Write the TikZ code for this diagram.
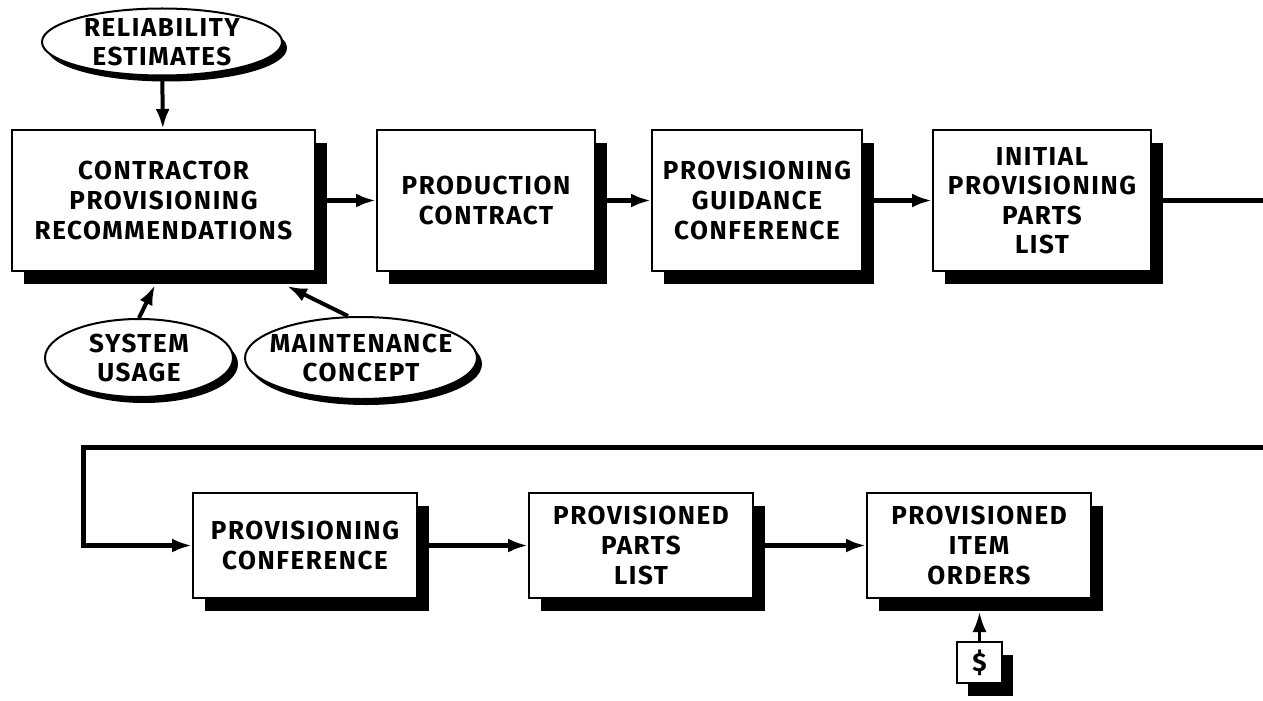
\documentclass[tikz,border=0pt]{standalone}
\usepackage{fontspec}
\setmainfont[LetterSpace=6]{Fira Sans}
\usetikzlibrary{arrows.meta,shapes,shadows,positioning}
\tikzset{
	box/.style={
		rectangle,
		draw,
		line width=0.4mm,
		fill=white,
		align=center,
		font=\bfseries\fontsize{14.8}{16.8}\selectfont,
	},
	stage/.style={
		box,
		minimum height=28.2mm,
		drop shadow={shadow xshift=2.4mm,shadow yshift=-2.6mm,fill=black,opacity=1},
	},
	lowstage/.style={
		stage,
		minimum height=21mm,
		minimum width=44.8mm,
	},
	tag/.style={
		box,
		inner sep=0pt,
		minimum width=9mm,
		minimum height=8.2mm,
		drop shadow={shadow xshift=2.2mm,shadow yshift=-2.6mm,fill=black,opacity=1},
	},
	source/.style={
		ellipse,
		draw,
		line width=0.4mm,
		fill=white,
		align=center,
		font=\bfseries\fontsize{14.8}{16.8}\selectfont,
		inner xsep=-2.5mm,
		inner ysep=-1.5mm,
		drop shadow={shadow xshift=1mm,shadow yshift=-1.2mm,fill=black,opacity=1},
	},
	flow/.style={
		->,
		line width=1mm,
	},
	feed/.style={
		->,
		line width=0.8mm,
	}
}

\begin{document}
\begin{tikzpicture}[x=0.2mm,y=-0.2mm,>={Latex[length=4mm,width=2.8mm]}]
	\useasboundingbox (0,0) rectangle (1263,701);
	% first row
	\node [stage,minimum width=60.6mm] (recs) at (163.5,200.5) {CONTRACTOR\\PROVISIONING\\RECOMMENDATIONS};
	\node [stage,minimum width=43.6mm] (contract) [right=12mm of recs] {PRODUCTION\\CONTRACT};
	\node [stage,minimum width=42mm] (guidance) [right=11mm of contract] {PROVISIONING\\GUIDANCE\\CONFERENCE};
	\node [stage,minimum width=43.6mm] (initial) [right=13.8mm of guidance] {INITIAL\\PROVISIONING\\PARTS\\LIST};
	% inputs
	\node [source,minimum width=48mm,minimum height=13.4mm] (reliab) at (162,42) {RELIABILITY\\ESTIMATES};
	\node [source,minimum width=37.6mm,minimum height=15.6mm] (usage) at (139,358) {SYSTEM\\USAGE};
	\node [source,minimum width=46.4mm,minimum height=16.4mm] (maint) at (361,358) {MAINTENANCE\\CONCEPT};
	\coordinate (usagefoot) at ([xshift=-1.7mm,yshift=-2.6mm]recs.south);
	\coordinate (maintfoot) at ([xshift=24.7mm,yshift=-2.8mm]recs.south);
	% second row
	\node [lowstage] (conf) at (305,545.5) {PROVISIONING\\CONFERENCE};
	\node [lowstage] (partslist) [right=22mm of conf] {PROVISIONED\\PARTS\\LIST};
	\node [lowstage] (orders) [right=22.4mm of partslist] {PROVISIONED\\ITEM\\ORDERS};
	\node [tag] (money) at (979.5,662.5) {\$};
	\coordinate (ordersfoot) at ([yshift=-2.6mm]orders.south);
	% loop round
	\coordinate (exitA) at (1263,200.5);
	\coordinate (exitB) at (1263,447);
	\coordinate (turn) at (83,447);

	\draw [feed] (reliab) -- (recs);
	\draw [feed] (usage.north) -- (usagefoot);
	\draw [feed] ([xshift=-2.6mm]maint.north) -- (maintfoot);
	\draw [flow] (recs) -- (contract);
	\draw [flow] (contract) -- (guidance);
	\draw [flow] (guidance) -- (initial);
	\draw [line width=1mm] (initial) -- (exitA);
	\draw [flow] (exitB) -- (turn) |- (conf);
	\draw [flow] (conf) -- (partslist);
	\draw [flow] (partslist) -- (orders);
	\draw [feed,line width=0.6mm] (money) -- (money |- ordersfoot);
\end{tikzpicture}
\end{document}
